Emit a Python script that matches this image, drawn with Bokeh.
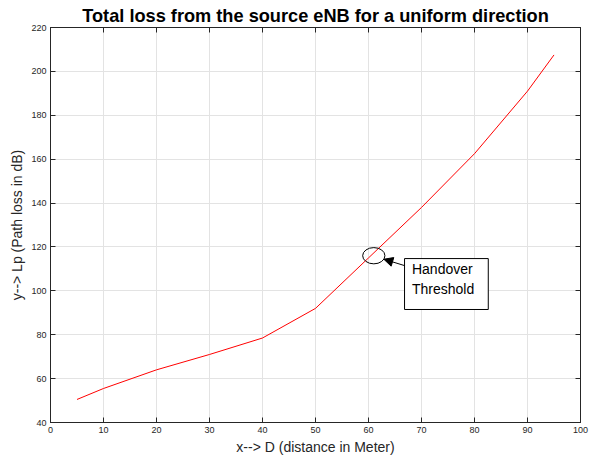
from bokeh.plotting import figure
from bokeh.models import (FixedTicker, LinearAxis, Range1d, Arrow, NormalHead,
                          CustomJSTickFormatter, Label)
from bokeh.embed import file_html
from bokeh.resources import INLINE

# ---- data ----
distance = [5, 10, 20, 30, 40, 50, 60, 70, 80, 90, 95]
path_loss = [50.5, 55.5, 64, 71, 78.5, 92, 115, 138, 162.5, 191, 207.5]
x_ticks = [0, 10, 20, 30, 40, 50, 60, 70, 80, 90, 100]
y_ticks = [40, 60, 80, 100, 120, 140, 160, 180, 200, 220]

title_text = "Total loss from the source eNB for a uniform direction"
x_label = "x--> D (distance in Meter)"
y_label = "y--> Lp (Path loss in dB)"
note_lines = ["Handover", "Threshold"]

# annotation geometry (data units)
ellipse_xy = (61.0, 116.0)
ellipse_wh = (4.2, 7.4)
arrow_from = (66.8, 111.5)
arrow_to = (62.9, 114.4)
box_lrtb = (66.8, 82.6, 114.7, 91.5)

FONT = "Liberation Sans"
AX = "#262626"

p = figure(output_backend="svg", toolbar_location=None,
           width=596, height=458,
           min_border_left=50, min_border_right=16,
           min_border_top=27, min_border_bottom=36,
           x_range=Range1d(0, 100), y_range=Range1d(40, 220),
           background_fill_color="white", border_fill_color="white",
           outline_line_color=AX)

p.title.text = title_text
p.title.text_font = FONT
p.title.text_font_size = "18.2px"
p.title.text_font_style = "bold"
p.title.text_color = "black"
p.title.align = "center"
p.title.offset = -7
p.title.standoff = 3

def style_axis(ax, show_labels=True):
    ax.axis_line_color = AX
    ax.axis_line_width = 1
    ax.major_tick_in = 5
    ax.major_tick_out = 0
    ax.major_tick_line_color = AX
    ax.minor_tick_line_color = None
    ax.major_label_text_font = FONT
    ax.major_label_text_font_size = "9px"
    ax.major_label_text_color = AX
    ax.major_label_standoff = 4
    ax.axis_label_text_font = FONT
    ax.axis_label_text_font_size = "14px"
    ax.axis_label_text_font_style = "normal"
    ax.axis_label_text_color = AX
    ax.axis_label_standoff = 3
    if not show_labels:
        ax.formatter = CustomJSTickFormatter(code="return ''")
        ax.major_label_standoff = 0

p.xaxis.ticker = FixedTicker(ticks=x_ticks)
p.yaxis.ticker = FixedTicker(ticks=y_ticks)
p.xaxis.axis_label = x_label
p.yaxis.axis_label = y_label
style_axis(p.xaxis[0])
style_axis(p.yaxis[0])
p.xaxis.axis_label_standoff = 3

top = LinearAxis(ticker=FixedTicker(ticks=x_ticks))
right = LinearAxis(ticker=FixedTicker(ticks=y_ticks))
style_axis(top, False)
style_axis(right, False)
p.add_layout(top, "above")
p.add_layout(right, "right")

p.xgrid.ticker = FixedTicker(ticks=x_ticks)
p.ygrid.ticker = FixedTicker(ticks=y_ticks)
p.grid.grid_line_color = "#e3e3e3"
p.grid.grid_line_width = 1

p.line(distance, path_loss, line_color="#ff0000", line_width=1)

# annotation
p.ellipse(x=[ellipse_xy[0]], y=[ellipse_xy[1]], width=ellipse_wh[0], height=ellipse_wh[1],
          fill_color=None, line_color="black", line_width=1)
p.add_layout(Arrow(end=NormalHead(size=9, fill_color="black", line_color="black"),
                   x_start=arrow_from[0], y_start=arrow_from[1],
                   x_end=arrow_to[0], y_end=arrow_to[1],
                   line_color="black", line_width=1))
l, r, t, b = box_lrtb
p.quad(left=[l], right=[r], top=[t], bottom=[b], fill_color="white",
       line_color="black", line_width=1)
p.add_layout(Label(x=l + 1.4, y=t - 1.3, text=note_lines[0], text_font=FONT,
                   text_font_size="14px", text_color="black", text_baseline="top"))
p.add_layout(Label(x=l + 1.4, y=t - 10.4, text=note_lines[1], text_font=FONT,
                   text_font_size="14px", text_color="black", text_baseline="top"))

open("out.html", "w").write(file_html(p, INLINE))
